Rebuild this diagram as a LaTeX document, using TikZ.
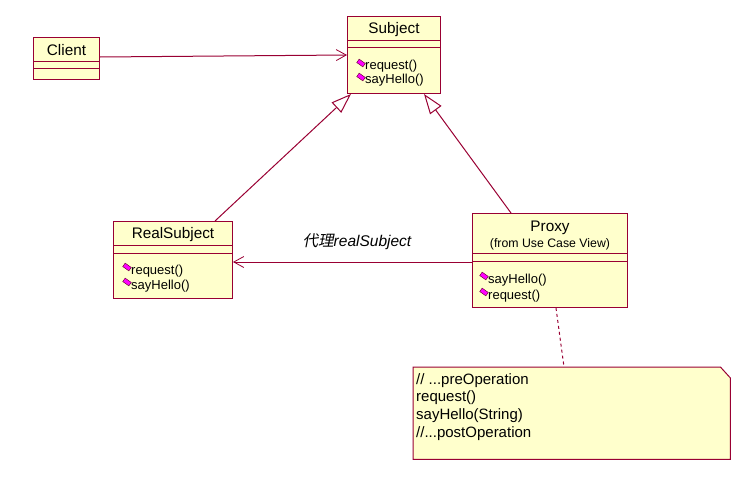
\documentclass[tikz,border=0pt]{standalone}
\usepackage{fontspec}
\setmainfont{Liberation Sans}
\newfontfamily\cjk[FakeSlant=0.2]{Noto Sans CJK SC}
\usetikzlibrary{arrows.meta,calc}
\definecolor{rosebd}{RGB}{153,0,51}
\definecolor{rosefill}{RGB}{255,255,204}
\definecolor{diam}{RGB}{255,0,255}
\begin{document}
\begin{tikzpicture}[x=1pt,y=-1pt,
  classbox/.style={draw=rosebd, fill=rosefill, line width=1pt, rectangle, inner sep=0pt, anchor=north west},
  sepline/.style={draw=rosebd, line width=1pt},
  titletext/.style={inner sep=0pt, font=\fontsize{15.3}{18}\selectfont},
  subtext/.style={inner sep=0pt, font=\fontsize{12.3}{14}\selectfont},
  methtext/.style={inner sep=0pt, anchor=west, font=\fontsize{13}{15}\selectfont},
  mdiam/.style={draw=rosebd!60!black, fill=diam, line width=0.4pt, rectangle, minimum width=7.5pt, minimum height=4.2pt, inner sep=0pt, rotate=-35},
  conn/.style={draw=rosebd, line width=1pt},
  gen/.style={conn, -{Triangle[open, length=20pt, width=14pt, fill=white]}},
  assoc/.style={conn, -{Straight Barb[length=10pt, width=11pt, line width=0.8pt]}},
  notelink/.style={draw=rosebd, line width=1pt, dash pattern=on 3pt off 3pt}
]
\useasboundingbox (0,0) rectangle (750,490);

% Client
\node[classbox, minimum width=66pt, minimum height=42pt] (cl) at (33,37) {};
\draw[sepline] ([yshift=-24pt]cl.north west) -- ([yshift=-24pt]cl.north east);
\draw[sepline] ([yshift=-31pt]cl.north west) -- ([yshift=-31pt]cl.north east);
\node[titletext] (clt) at ($(cl.north)+(0,13)$) {Client};

% Subject
\node[classbox, minimum width=93pt, minimum height=77pt] (sb) at (347,16) {};
\draw[sepline] ([yshift=-24pt]sb.north west) -- ([yshift=-24pt]sb.north east);
\draw[sepline] ([yshift=-31pt]sb.north west) -- ([yshift=-31pt]sb.north east);
\node[titletext] (sbt) at ($(sb.north)+(0,13.5)$) {Subject};
\node[mdiam] (sbd1) at (361,63) {};
\node[methtext] (sbm1) at (365,66.5) {request()};
\node[mdiam] (sbd2) at (361,77) {};
\node[methtext] (sbm2) at (365,80.5) {sayHello()};

% RealSubject
\node[classbox, minimum width=119pt, minimum height=77pt] (rs) at (113,221) {};
\draw[sepline] ([yshift=-24pt]rs.north west) -- ([yshift=-24pt]rs.north east);
\draw[sepline] ([yshift=-32pt]rs.north west) -- ([yshift=-32pt]rs.north east);
\node[titletext] (rst) at ($(rs.north)+(0,14)$) {RealSubject};
\node[mdiam] (rsd1) at (127,267) {};
\node[methtext] (rsm1) at (131,271.5) {request()};
\node[mdiam] (rsd2) at (127,282) {};
\node[methtext] (rsm2) at (131,286.5) {sayHello()};

% Proxy
\node[classbox, minimum width=155pt, minimum height=94pt] (px) at (472,213) {};
\draw[sepline] ([yshift=-40pt]px.north west) -- ([yshift=-40pt]px.north east);
\draw[sepline] ([yshift=-48pt]px.north west) -- ([yshift=-48pt]px.north east);
\node[titletext] (pxt) at ($(px.north)+(0,14.5)$) {Proxy};
\node[subtext] (pxs) at ($(px.north)+(0,31.5)$) {(from Use Case View)};
\node[mdiam] (pxd1) at (484,276) {};
\node[methtext] (pxm1) at (488,280.5) {sayHello()};
\node[mdiam] (pxd2) at (484,292) {};
\node[methtext] (pxm2) at (488,296.5) {request()};

% Note
\node[inner sep=0pt, minimum width=317pt, minimum height=92pt, anchor=north west] (nt) at (413,367) {};
\draw[draw=rosebd, fill=rosefill, line width=1pt]
  (nt.north west) -- ([xshift=-10pt]nt.north east) -- ([yshift=-11pt]nt.north east)
  -- (nt.south east) -- (nt.south west) -- cycle;
\node[inner sep=0pt, anchor=north west, align=left,
      font=\fontsize{15}{17.8}\selectfont] (ntx) at (416,373)
  {// ...preOperation\\request()\\sayHello(String)\\//...postOperation};

% Connectors
\draw[conn, -{Straight Barb[length=10pt, width=11pt, line width=0.8pt]}]
  ([yshift=-20pt]cl.north east) -- ([yshift=-39pt]sb.north west);
\draw[gen] ([xshift=102pt]rs.north west) -- ([xshift=4pt]sb.south west);
\draw[gen] ([xshift=39pt]px.north west) -- ([xshift=77pt]sb.south west);
\draw[assoc] ([yshift=-49pt]px.north west) -- ([yshift=-41pt]rs.north east);
\node[inner sep=0pt, font=\fontsize{15.5}{18}\selectfont\itshape] (al) at (357,242)
  {{\cjk 代理}realSubject};
\draw[notelink] ([xshift=84pt]px.south west) -- ([xshift=151pt]nt.north west);

\end{tikzpicture}
\end{document}
